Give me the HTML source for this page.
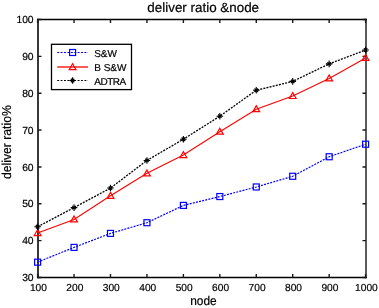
<!DOCTYPE html><html><head><meta charset="utf-8"><style>
html,body{margin:0;padding:0;background:#fff;width:379px;height:308px;overflow:hidden}
text{stroke:#000;stroke-width:0.2px;text-rendering:geometricPrecision}svg{display:block;font-family:"Liberation Sans",sans-serif;will-change:transform;filter:blur(0.35px)}
</style></head><body>
<svg width="379" height="308" viewBox="0 0 379 308">
<rect width="379" height="308" fill="#fff"/>
<path d="M38.0,18.8V278.2" stroke="#222" stroke-width="1.8" fill="none"/>
<path d="M366.0,18.8V278.2" stroke="#4a4a4a" stroke-width="1.8" fill="none"/>
<path d="M37.1,19.5H366.9M37.1,277.5H366.9" stroke="#000" stroke-width="1.3" fill="none"/>
<path d="M37.60,277.5v-3.5M37.60,19.5v3.5M74.04,277.5v-3.5M74.04,19.5v3.5M110.49,277.5v-3.5M110.49,19.5v3.5M146.93,277.5v-3.5M146.93,19.5v3.5M183.38,277.5v-3.5M183.38,19.5v3.5M219.82,277.5v-3.5M219.82,19.5v3.5M256.27,277.5v-3.5M256.27,19.5v3.5M292.71,277.5v-3.5M292.71,19.5v3.5M329.16,277.5v-3.5M329.16,19.5v3.5M365.60,277.5v-3.5M365.60,19.5v3.5M38.0,277.50h3.5M366.0,277.50h-3.5M38.0,240.64h3.5M366.0,240.64h-3.5M38.0,203.79h3.5M366.0,203.79h-3.5M38.0,166.93h3.5M366.0,166.93h-3.5M38.0,130.07h3.5M366.0,130.07h-3.5M38.0,93.21h3.5M366.0,93.21h-3.5M38.0,56.36h3.5M366.0,56.36h-3.5M38.0,19.50h3.5M366.0,19.50h-3.5" stroke="#1a1a1a" stroke-width="1.4" fill="none"/>
<text x="38.40" y="291.2" font-size="10.2" text-anchor="middle" fill="#000">100</text>
<text x="74.84" y="291.2" font-size="10.2" text-anchor="middle" fill="#000">200</text>
<text x="111.29" y="291.2" font-size="10.2" text-anchor="middle" fill="#000">300</text>
<text x="147.73" y="291.2" font-size="10.2" text-anchor="middle" fill="#000">400</text>
<text x="184.18" y="291.2" font-size="10.2" text-anchor="middle" fill="#000">500</text>
<text x="220.62" y="291.2" font-size="10.2" text-anchor="middle" fill="#000">600</text>
<text x="257.07" y="291.2" font-size="10.2" text-anchor="middle" fill="#000">700</text>
<text x="293.51" y="291.2" font-size="10.2" text-anchor="middle" fill="#000">800</text>
<text x="329.96" y="291.2" font-size="10.2" text-anchor="middle" fill="#000">900</text>
<text x="366.40" y="291.2" font-size="10.2" text-anchor="middle" fill="#000">1000</text>
<text x="33.6" y="281.20" font-size="10.3" text-anchor="end" fill="#000">30</text>
<text x="33.6" y="244.34" font-size="10.3" text-anchor="end" fill="#000">40</text>
<text x="33.6" y="207.49" font-size="10.3" text-anchor="end" fill="#000">50</text>
<text x="33.6" y="170.63" font-size="10.3" text-anchor="end" fill="#000">60</text>
<text x="33.6" y="133.77" font-size="10.3" text-anchor="end" fill="#000">70</text>
<text x="33.6" y="96.91" font-size="10.3" text-anchor="end" fill="#000">80</text>
<text x="33.6" y="60.06" font-size="10.3" text-anchor="end" fill="#000">90</text>
<text x="33.6" y="23.20" font-size="10.3" text-anchor="end" fill="#000">100</text>
<text transform="translate(203.2,12.0)" font-size="13.4" text-anchor="middle" fill="#000">deliver ratio &amp;node</text>
<text transform="translate(203.4,304.6) scale(1,1.06)" font-size="11.9" text-anchor="middle" fill="#000">node</text>
<text transform="translate(11.3,142.1) rotate(-90) scale(1,1.06)" font-size="12.2" text-anchor="middle" fill="#000">deliver ratio%</text>
<polyline points="37.60,262.16 74.04,247.41 110.49,233.41 146.93,222.72 183.38,205.40 219.82,196.55 256.27,186.97 292.71,176.28 329.16,156.75 365.60,144.21" fill="none" stroke="#0000ff" stroke-width="1.2" stroke-dasharray="2,1.2"/>
<rect x="34.60" y="259.16" width="6" height="6" fill="none" stroke="#0000ff" stroke-width="1.2"/><rect x="71.04" y="244.41" width="6" height="6" fill="none" stroke="#0000ff" stroke-width="1.2"/><rect x="107.49" y="230.41" width="6" height="6" fill="none" stroke="#0000ff" stroke-width="1.2"/><rect x="143.93" y="219.72" width="6" height="6" fill="none" stroke="#0000ff" stroke-width="1.2"/><rect x="180.38" y="202.40" width="6" height="6" fill="none" stroke="#0000ff" stroke-width="1.2"/><rect x="216.82" y="193.55" width="6" height="6" fill="none" stroke="#0000ff" stroke-width="1.2"/><rect x="253.27" y="183.97" width="6" height="6" fill="none" stroke="#0000ff" stroke-width="1.2"/><rect x="289.71" y="173.28" width="6" height="6" fill="none" stroke="#0000ff" stroke-width="1.2"/><rect x="326.16" y="153.75" width="6" height="6" fill="none" stroke="#0000ff" stroke-width="1.2"/><rect x="362.60" y="141.21" width="6" height="6" fill="none" stroke="#0000ff" stroke-width="1.2"/>
<polyline points="37.60,233.04 74.04,219.40 110.49,195.81 146.93,173.33 183.38,155.05 219.82,131.68 256.27,109.20 292.71,96.01 329.16,78.42 365.60,57.97" fill="none" stroke="#ff0000" stroke-width="1.1"/>
<path d="M37.60,229.64L41.00,235.54L34.20,235.54Z" fill="none" stroke="#ff0000" stroke-width="1.2"/><path d="M74.04,216.00L77.44,221.90L70.64,221.90Z" fill="none" stroke="#ff0000" stroke-width="1.2"/><path d="M110.49,192.41L113.89,198.31L107.09,198.31Z" fill="none" stroke="#ff0000" stroke-width="1.2"/><path d="M146.93,169.93L150.33,175.83L143.53,175.83Z" fill="none" stroke="#ff0000" stroke-width="1.2"/><path d="M183.38,151.65L186.78,157.55L179.98,157.55Z" fill="none" stroke="#ff0000" stroke-width="1.2"/><path d="M219.82,128.28L223.22,134.18L216.42,134.18Z" fill="none" stroke="#ff0000" stroke-width="1.2"/><path d="M256.27,105.80L259.67,111.70L252.87,111.70Z" fill="none" stroke="#ff0000" stroke-width="1.2"/><path d="M292.71,92.61L296.11,98.51L289.31,98.51Z" fill="none" stroke="#ff0000" stroke-width="1.2"/><path d="M329.16,75.02L332.56,80.92L325.76,80.92Z" fill="none" stroke="#ff0000" stroke-width="1.2"/><path d="M365.60,54.57L369.00,60.47L362.20,60.47Z" fill="none" stroke="#ff0000" stroke-width="1.2"/>
<polyline points="37.60,226.77 74.04,207.61 110.49,188.07 146.93,160.43 183.38,139.24 219.82,116.20 256.27,90.22 292.71,81.41 329.16,63.87 365.60,50.01" fill="none" stroke="#000" stroke-width="1.3" stroke-dasharray="2,1.2"/>
<path d="M34.30,226.77h6.6M37.60,223.47v6.6" stroke="#000" stroke-width="1.1" fill="none"/><path d="M35.90,225.07l3.4,3.4M35.90,228.47l3.4,-3.4" stroke="#000" stroke-width="1.3" fill="none"/><path d="M70.74,207.61h6.6M74.04,204.31v6.6" stroke="#000" stroke-width="1.1" fill="none"/><path d="M72.34,205.91l3.4,3.4M72.34,209.31l3.4,-3.4" stroke="#000" stroke-width="1.3" fill="none"/><path d="M107.19,188.07h6.6M110.49,184.77v6.6" stroke="#000" stroke-width="1.1" fill="none"/><path d="M108.79,186.37l3.4,3.4M108.79,189.77l3.4,-3.4" stroke="#000" stroke-width="1.3" fill="none"/><path d="M143.63,160.43h6.6M146.93,157.13v6.6" stroke="#000" stroke-width="1.1" fill="none"/><path d="M145.23,158.73l3.4,3.4M145.23,162.13l3.4,-3.4" stroke="#000" stroke-width="1.3" fill="none"/><path d="M180.08,139.24h6.6M183.38,135.94v6.6" stroke="#000" stroke-width="1.1" fill="none"/><path d="M181.68,137.54l3.4,3.4M181.68,140.94l3.4,-3.4" stroke="#000" stroke-width="1.3" fill="none"/><path d="M216.52,116.20h6.6M219.82,112.90v6.6" stroke="#000" stroke-width="1.1" fill="none"/><path d="M218.12,114.50l3.4,3.4M218.12,117.90l3.4,-3.4" stroke="#000" stroke-width="1.3" fill="none"/><path d="M252.97,90.22h6.6M256.27,86.92v6.6" stroke="#000" stroke-width="1.1" fill="none"/><path d="M254.57,88.52l3.4,3.4M254.57,91.92l3.4,-3.4" stroke="#000" stroke-width="1.3" fill="none"/><path d="M289.41,81.41h6.6M292.71,78.11v6.6" stroke="#000" stroke-width="1.1" fill="none"/><path d="M291.01,79.71l3.4,3.4M291.01,83.11l3.4,-3.4" stroke="#000" stroke-width="1.3" fill="none"/><path d="M325.86,63.87h6.6M329.16,60.57v6.6" stroke="#000" stroke-width="1.1" fill="none"/><path d="M327.46,62.17l3.4,3.4M327.46,65.57l3.4,-3.4" stroke="#000" stroke-width="1.3" fill="none"/><path d="M362.30,50.01h6.6M365.60,46.71v6.6" stroke="#000" stroke-width="1.1" fill="none"/><path d="M363.90,48.31l3.4,3.4M363.90,51.71l3.4,-3.4" stroke="#000" stroke-width="1.3" fill="none"/>
<rect x="51.5" y="44.3" width="80.0" height="45.3" fill="#fff" stroke="#000" stroke-width="1.3"/>
<path d="M57.2,52.5H88.0" stroke="#0000ff" stroke-width="1.2" stroke-dasharray="2,1.4"/>
<rect x="69.6" y="49.5" width="6" height="6" fill="none" stroke="#0000ff" stroke-width="1.2"/>
<path d="M57.2,67.0H88.0" stroke="#ff0000" stroke-width="1.3"/>
<path d="M72.6,63.7L76.0,69.60000000000001L69.19999999999999,69.60000000000001Z" fill="none" stroke="#ff0000" stroke-width="1.2"/>
<path d="M57.2,80.5H88.0" stroke="#000" stroke-width="1.0" stroke-dasharray="1.9,1.5"/>
<path d="M69.39999999999999,80.5h6.4M72.6,77.3v6.4" stroke="#000" stroke-width="1.1" fill="none"/><path d="M70.89999999999999,78.8l3.4,3.4M70.89999999999999,82.2l3.4,-3.4" stroke="#000" stroke-width="1.3" fill="none"/>
<text x="94.2" y="57.3" font-size="10" letter-spacing="0" fill="#000">S&amp;W</text>
<text x="94.2" y="71.0" font-size="10" letter-spacing="0" fill="#000">B S&amp;W</text>
<text x="94.2" y="85.4" font-size="10" letter-spacing="-0.45" fill="#000">ADTRA</text>
</svg></body></html>
